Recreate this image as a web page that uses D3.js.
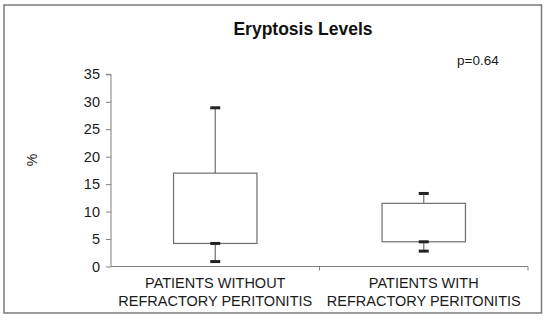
<!DOCTYPE html>
<html>
<head>
<meta charset="utf-8">
<script src="https://cdn.jsdelivr.net/npm/d3@7"></script>
<style>
  html, body { margin: 0; padding: 0; background: #fff; }
  svg { display: block; font-family: "Liberation Sans", Arial, sans-serif; }
</style>
</head>
<body>
<svg id="chart" width="550" height="320"></svg>
<script>
// ---- data ----
const categories = ["PATIENTS WITHOUT|REFRACTORY PERITONITIS", "PATIENTS WITH|REFRACTORY PERITONITIS"];
const minValues = [0.9, 2.8];
const q1Values = [4.2, 4.5];
const q3Values = [17.0, 11.5];
const maxValues = [28.9, 13.3];
const yTicks = [0, 5, 10, 15, 20, 25, 30, 35];
const title = "Eryptosis Levels";
const pText = "p=0.64";
const yLabel = "%";

const svg = d3.select("#chart");
const margin = { left: 111, right: 528, top: 74.3, bottom: 266.5 };

// outer border
svg.append("rect").attr("x", 4).attr("y", 5).attr("width", 537.5).attr("height", 308)
  .attr("fill", "none").attr("stroke", "#7a7a7a").attr("stroke-width", 1.5);

const x = d3.scaleBand().domain(categories).range([margin.left, margin.right]).padding(0);
const y = d3.scaleLinear().domain([0, 35]).range([margin.bottom, margin.top]);

// y axis
const yAxis = svg.append("g").attr("transform", `translate(${margin.left},0)`)
  .call(d3.axisLeft(y).tickValues(yTicks).tickSize(5).tickPadding(6));
yAxis.select(".domain").attr("stroke", "#7f7f7f").attr("d", `M-5,${y(35)}H0V${y(0)}`);
yAxis.selectAll(".tick line").attr("stroke", "#7f7f7f");
yAxis.selectAll(".tick text").attr("font-size", "14.5px").attr("fill", "#1a1a1a");

// x axis line with boundary ticks
const bounds = [margin.left, ...categories.map(c => x(c) + x.bandwidth())];
svg.append("line").attr("x1", margin.left).attr("x2", margin.right)
  .attr("y1", y(0)).attr("y2", y(0)).attr("stroke", "#7f7f7f");
svg.selectAll(".xtick").data(bounds.slice(1)).join("line")
  .attr("x1", d => d).attr("x2", d => d).attr("y1", y(0)).attr("y2", y(0) + 4)
  .attr("stroke", "#7f7f7f");

// category labels
categories.forEach(c => {
  const lines = c.split("|");
  const t = svg.append("text").attr("text-anchor", "middle").attr("font-size", "14.5px").attr("fill", "#1a1a1a");
  lines.forEach((ln, i) => {
    t.append("tspan").attr("x", x(c) + x.bandwidth() / 2).attr("y", 288 + i * 17.8).text(ln);
  });
});

// boxes
const boxW = x.bandwidth() * 0.4;
const capW = 10;
categories.forEach((c, i) => {
  const cx = x(c) + x.bandwidth() / 2;
  const g = svg.append("g");
  // whiskers
  g.append("line").attr("x1", cx).attr("x2", cx).attr("y1", y(q3Values[i])).attr("y2", y(maxValues[i]))
    .attr("stroke", "#6e6e6e").attr("stroke-width", 1.2);
  g.append("line").attr("x1", cx).attr("x2", cx).attr("y1", y(q1Values[i])).attr("y2", y(minValues[i]))
    .attr("stroke", "#6e6e6e").attr("stroke-width", 1.2);
  // box
  g.append("rect").attr("x", cx - boxW / 2).attr("width", boxW)
    .attr("y", y(q3Values[i])).attr("height", y(q1Values[i]) - y(q3Values[i]))
    .attr("fill", "#fff").attr("stroke", "#6e6e6e").attr("stroke-width", 1.2);
  // caps
  [maxValues[i], q1Values[i], minValues[i]].forEach(v => {
    g.append("rect").attr("x", cx - capW / 2).attr("width", capW)
      .attr("y", y(v) - 1.5).attr("height", 3).attr("fill", "#222");
  });
});

// title
svg.append("text").attr("x", 303).attr("y", 35).attr("text-anchor", "middle")
  .attr("font-size", "17.5px").attr("font-weight", "bold").attr("fill", "#111").text(title);

// p value
svg.append("text").attr("x", 457).attr("y", 65).attr("font-size", "13.5px").attr("fill", "#1a1a1a").text(pText);

// y label
svg.append("text").attr("transform", "translate(37,160) rotate(-90)").attr("text-anchor", "middle")
  .attr("font-size", "14px").attr("fill", "#1a1a1a").text(yLabel);
</script>
</body>
</html>
